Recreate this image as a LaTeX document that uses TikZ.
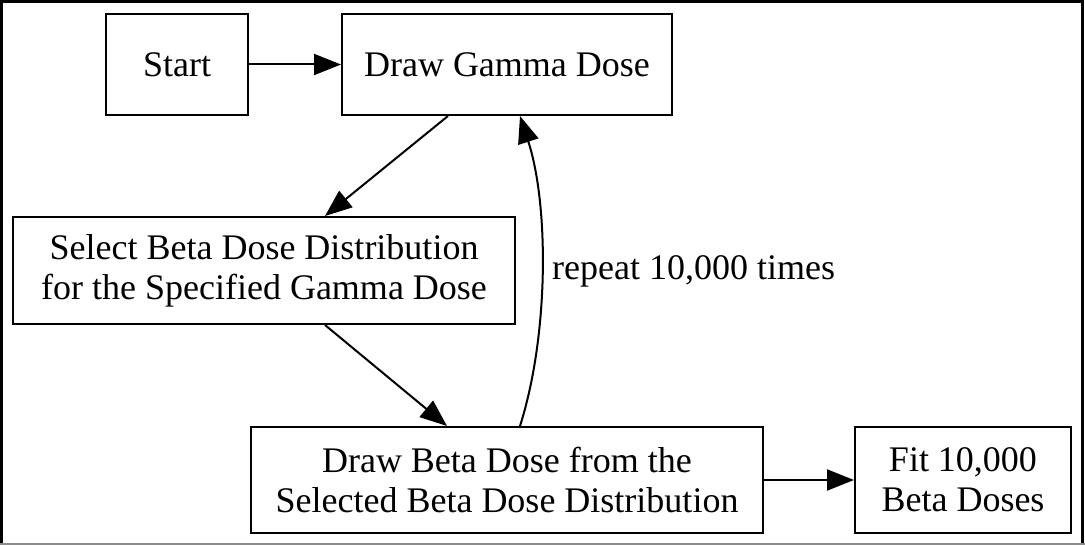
\documentclass[tikz,border=0pt]{standalone}
\usepackage{fontspec}
\setmainfont{Liberation Serif}
\usetikzlibrary{arrows.meta}
\begin{document}
\begin{tikzpicture}[x=1pt,y=-1pt,
  box/.style={draw=black, line width=2pt, rectangle, inner sep=0pt, align=center,
    font=\fontsize{36}{40}\selectfont},
  edge/.style={line width=2pt, -{Triangle[length=27pt,width=21pt]}},
  lbl/.style={font=\fontsize{36}{40}\selectfont, inner sep=0pt}]
\useasboundingbox (0,0) rectangle (1085,545);
% frame
\draw[line width=3pt] (1.5,544) -- (1.5,1.5) -- (1082.5,1.5) -- (1082.5,544);
\draw[black!45, line width=1.2pt] (0,544) -- (1085,544);
% nodes
\node[box, minimum width=142pt, minimum height=101pt] (start) at (177,64.5) {Start};
\node[box, minimum width=330pt, minimum height=101pt] (gamma) at (507,64.5) {Draw Gamma Dose};
\node[box, minimum width=502pt, minimum height=107pt] (select) at (264,270.5) {Select Beta Dose Distribution\\for the Specified Gamma Dose};
\node[box, minimum width=512pt, minimum height=106pt] (beta) at (507,480) {Draw Beta Dose from the\\Selected Beta Dose Distribution};
\node[box, minimum width=216pt, minimum height=106pt] (fit) at (963,480) {Fit 10,000\\Beta Doses};
\node[lbl, anchor=base west] (rep) at (552,280) {repeat 10,000 times};
% edges
\draw[edge] (start) -- (gamma);
\draw[edge] ([xshift=-59pt]gamma.south) -- ([xshift=61pt]select.north);
\draw[edge] ([xshift=61pt]select.south) -- ([xshift=-60pt]beta.north);
\draw[edge] ([xshift=13pt]beta.north) .. controls (549,335) and (549,205) .. ([xshift=13pt]gamma.south);
\draw[edge] (beta) -- (fit);
\end{tikzpicture}
\end{document}
